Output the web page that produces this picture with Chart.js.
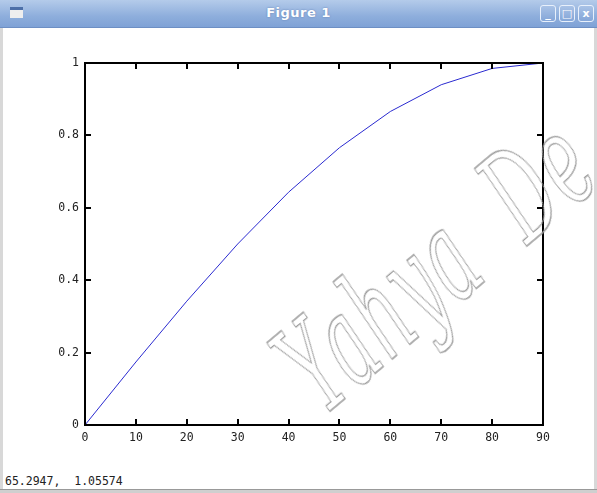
<!DOCTYPE html>
<html>
<head>
<meta charset="utf-8">
<script src="https://cdn.jsdelivr.net/npm/chart.js@4.4.1/dist/chart.umd.min.js"></script>
<style>
  html, body { margin: 0; padding: 0; background: #fff; }
  #win { position: relative; width: 597px; height: 493px; overflow: hidden; background: #fff; font-family: "DejaVu Sans", sans-serif; }
  #titlebar { position: absolute; left: 0; top: 0; width: 597px; height: 27px;
    background: linear-gradient(#b4cbea, #8eaedc 60%, #7fa2d6); border-bottom: 1px solid #6d8fc4; }
  #title { position: absolute; left: 0; right: 0; top: 5px; text-align: center; color: #fff; font-weight: bold; font-size: 13px;
    text-shadow: 0 0 2px #5a7ab0; letter-spacing: 0.5px; }
  .btn { position: absolute; top: 5px; width: 14px; height: 15px; border: 1px solid #e8f0fb; border-radius: 3px;
    background: linear-gradient(#a9c2e6, #84a6d8); color: #fff; font-size: 11px; font-weight: bold; line-height: 15px; text-align: center; }
  #ico { position: absolute; left: 10px; top: 7px; width: 13px; height: 11px; background: #eeeeee; border-top: 3px solid #4c6fa8; box-sizing: border-box; }
  #lb { position: absolute; left: 0; top: 28px; width: 3px; height: 462px; background: #d8d8d8; }
  #rb { position: absolute; right: 0; top: 28px; width: 3px; height: 462px; background: #d8d8d8; }
  #bb { position: absolute; left: 0; top: 489px; width: 597px; height: 4px; background: #cfcfcf; border-top: 1px solid #999; }
  #status { position: absolute; left: 5px; top: 474px; font-family: "DejaVu Sans Mono", monospace; font-size: 11.5px; color: #222; white-space: pre; }
  #wrap { position: absolute; left: 4px; top: 28px; width: 589px; height: 442px; }
  #mark { position: absolute; left: 254px; top: 334px; transform-origin: 0 0; transform: rotate(-40deg) scaleX(0.55);
    font-family: "DejaVu Serif", serif; font-style: italic; font-size: 128px; line-height: 1; color: transparent;
    -webkit-text-stroke: 1.4px #9a9a9a; white-space: pre; pointer-events: none; letter-spacing: 3px; }
</style>
</head>
<body>
<div id="win">
  <div id="titlebar">
    <div id="ico"></div>
    <div id="title">Figure 1</div>
    <div class="btn" style="left:540px">_</div>
    <div class="btn" style="left:559px">□</div>
    <div class="btn" style="left:578px">x</div>
  </div>
  <div id="lb"></div><div id="rb"></div>
  <div id="wrap"><canvas id="c"></canvas></div>
  <div id="mark">Yahya  De</div>
  <div id="status">65.2947,  1.05574</div>
  <div id="bb"></div>
</div>
<script>
// angle in degrees and the curve value
const angles = [0, 10, 20, 30, 40, 50, 60, 70, 80, 90];
const values = [0, 0.174, 0.342, 0.5, 0.643, 0.766, 0.866, 0.94, 0.985, 1];
const xTicks = [0, 10, 20, 30, 40, 50, 60, 70, 80, 90];
const yTicks = [0, 0.2, 0.4, 0.6, 0.8, 1];

// inward tick marks on all four sides, like the octave/gnuplot box
const boxTicks = {
  id: 'boxTicks',
  afterDraw(chart) {
    const { ctx, chartArea: a, scales } = chart;
    ctx.save();
    ctx.strokeStyle = '#000';
    ctx.lineWidth = 2;
    ctx.strokeRect(a.left, a.top, a.right - a.left, a.bottom - a.top);
    ctx.beginPath();
    xTicks.forEach(v => {
      const x = Math.round(scales.x.getPixelForValue(v));
      ctx.moveTo(x, a.bottom); ctx.lineTo(x, a.bottom - 6);
      ctx.moveTo(x, a.top); ctx.lineTo(x, a.top + 6);
    });
    yTicks.forEach(v => {
      const y = Math.round(scales.y.getPixelForValue(v));
      ctx.moveTo(a.left, y); ctx.lineTo(a.left + 6, y);
      ctx.moveTo(a.right, y); ctx.lineTo(a.right - 6, y);
    });
    ctx.stroke();
    ctx.restore();
  }
};

new Chart(document.getElementById('c'), {
  type: 'line',
  data: {
    datasets: [{
      data: angles.map((a, i) => ({ x: a, y: values[i] })),
      borderColor: '#2a2ad0',
      borderWidth: 1,
      pointRadius: 0,
      tension: 0,
      fill: false
    }]
  },
  options: {
    responsive: true,
    maintainAspectRatio: false,
    animation: false,
    layout: { padding: { top: 35, right: 50, left: 0, bottom: 0 } },
    plugins: { legend: { display: false }, tooltip: { enabled: false } },
    scales: {
      x: {
        type: 'linear', min: 0, max: 90,
        afterFit(s) { s.height = 45; },
        afterBuildTicks(s) { s.ticks = xTicks.map(v => ({ value: v })); },
        grid: { display: false, drawTicks: false },
        border: { display: false },
        ticks: { color: '#222', padding: 6, maxRotation: 0, font: { family: 'DejaVu Sans Mono', size: 11.5 } }
      },
      y: {
        type: 'linear', min: 0, max: 1,
        afterFit(s) { s.width = 81; },
        afterBuildTicks(s) { s.ticks = yTicks.map(v => ({ value: v })); },
        grid: { display: false, drawTicks: false },
        border: { display: false },
        ticks: { color: '#222', padding: 6, font: { family: 'DejaVu Sans Mono', size: 11.5 },
          callback: v => String(Math.round(v * 10) / 10) }
      }
    }
  },
  plugins: [boxTicks]
});
</script>
</body>
</html>
